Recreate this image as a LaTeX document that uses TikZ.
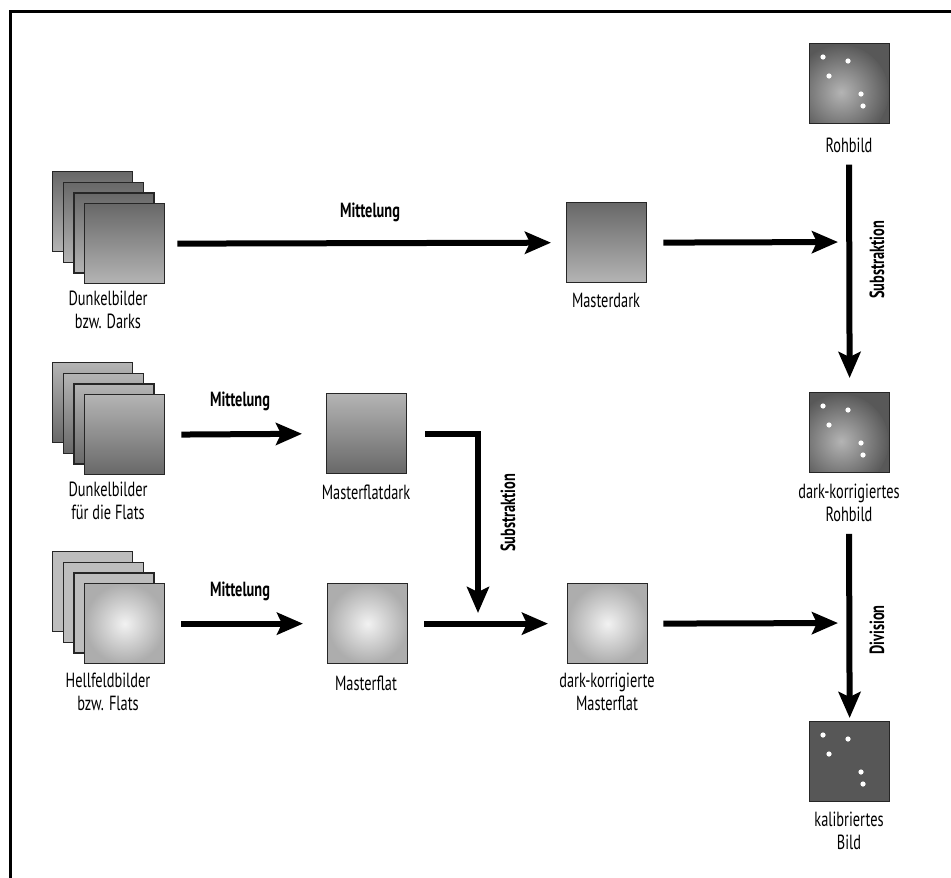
\documentclass[tikz,border=0pt]{standalone}
\usepackage{fontspec}
\setmainfont[FakeStretch=0.7]{PT Sans}
\usetikzlibrary{arrows.meta,calc}
\definecolor{gdark}{HTML}{686868}
\definecolor{glight}{HTML}{B4B4B4}
\definecolor{flatback}{HTML}{BDBDBD}
\definecolor{flatin}{HTML}{F2F2F2}
\definecolor{flatout}{HTML}{ADADAD}
\definecolor{rawout}{HTML}{585858}
\definecolor{rawin}{HTML}{B4B4B4}
\definecolor{calib}{HTML}{575757}
\begin{document}
\begin{tikzpicture}[x=1pt,y=-1pt,
  img/.style={draw=black!85, line width=1.3pt, minimum size=80pt, inner sep=0pt, anchor=north west},
  darkimg/.style={img, top color=gdark, bottom color=glight},
  flatdarkimg/.style={img, top color=glight, bottom color=gdark},
  flatbackimg/.style={img, fill=flatback},
  flatimg/.style={img, inner color=flatin, outer color=flatout},
  rawimg/.style={img, fill=rawout, path picture={
      \shade[inner color=rawin, outer color=rawout]
        ($(path picture bounding box.center)+(-9,9)$) circle (48);}},
  calimg/.style={img, fill=calib},
  caption/.style={align=center, font=\fontsize{20.5}{22.5}\selectfont, inner sep=0pt},
  oplabel/.style={font=\bfseries\fontsize{20.5}{22.5}\selectfont, inner sep=0pt},
  arr/.style={line width=6pt, -{Stealth[length=26pt, width=22pt, inset=5pt]}},
  star/.style={fill=white}
]
\useasboundingbox (0,0) rectangle (951,878);

% frame
\draw[line width=3pt, draw=black] (10,880) -- (10,11.5) -- (953,11.5);

% dark frames stack
\node[darkimg] (dk1) at (52,171) {};
\node[darkimg] (dk2) at (62.7,181.7) {};
\node[darkimg] (dk3) at (73.3,192.3) {};
\node[darkimg] (dk4) at (84,203) {};
\node[caption] (dkcap) at (108,310) {Dunkelbilder\\bzw. Darks};

% flat-dark frames stack
\node[flatdarkimg] (fd1) at (52,362) {};
\node[flatdarkimg] (fd2) at (62.7,372.7) {};
\node[flatdarkimg] (fd3) at (73.3,383.3) {};
\node[flatdarkimg] (fd4) at (84,394) {};
\node[caption] (fdcap) at (108,501) {Dunkelbilder\\für die Flats};

% flat frames stack
\node[flatbackimg] (fl1) at (52,551) {};
\node[flatbackimg] (fl2) at (62.7,561.7) {};
\node[flatbackimg] (fl3) at (73.3,572.3) {};
\node[flatimg] (fl4) at (84,583) {};
\node[caption] (flcap) at (108,692) {Hellfeldbilder\\bzw. Flats};

% master frames
\node[darkimg] (md) at (566,202) {};
\node[caption] (mdcap) at (606,300) {Masterdark};
\node[flatdarkimg] (mfd) at (326,393) {};
\node[caption] (mfdcap) at (366,492) {Masterflatdark};
\node[flatimg] (mf) at (327,583) {};
\node[caption] (mfcap) at (366,683) {Masterflat};
\node[flatimg] (dmf) at (567,583) {};
\node[caption] (dmfcap) at (607,692) {dark-korrigierte\\Masterflat};

% light frames
\node[rawimg] (raw) at (809,43) {};
\node[caption] (rawcap) at (849,145) {Rohbild};
\node[rawimg] (dkraw) at (809,392) {};
\node[caption] (dkrawcap) at (849,503) {dark-korrigiertes\\Rohbild};
\node[calimg] (cal) at (809,721) {};
\node[caption] (calcap) at (849,831) {kalibriertes\\Bild};

% stars
\foreach \n in {raw,dkraw,cal}{
  \foreach \px/\py in {14/14,39/18,20/33,52/51,54/63}{
    \fill[star] ($(\n.north west)+(\px,\py)$) circle (2.6);
  }
}

% junction points on the vertical arrows
\coordinate (sub1) at (849,242);
\coordinate (div1) at (849,623);
\coordinate (sub2) at (478,624);

% connectors
\draw[arr, shorten <=12pt, shorten >=15pt] (dk4.east) -- (md.west);
\draw[arr, shorten <=16pt, shorten >=11pt] (md.east) -- (sub1);
\draw[arr, shorten <=12pt, shorten >=14pt] (rawcap.south) -- (dkraw.north);
\draw[arr, shorten <=12pt, shorten >=3pt] (dkrawcap.south) -- (cal.north);
\draw[arr, shorten <=16pt, shorten >=24pt] (fd4.east) -- (mfd.west);
\draw[arr, shorten <=18pt, shorten >=11pt] (mfd.east) -| (sub2);
\draw[arr, shorten <=16pt, shorten >=24pt] (fl4.east) -- (mf.west);
\draw[arr, shorten <=16pt, shorten >=19pt] (mf.east) -- (dmf.west);
\draw[arr, shorten <=15pt, shorten >=11pt] (dmf.east) -- (div1);

% operation labels
\node[oplabel] (op1) at (370,212) {Mittelung};
\node[oplabel] (op2) at (240,401) {Mittelung};
\node[oplabel] (op3) at (240,591) {Mittelung};
\node[oplabel, rotate=90] (op4) at (877,260) {Substraktion};
\node[oplabel, rotate=90] (op5) at (508,513) {Substraktion};
\node[oplabel, rotate=90] (op6) at (877,630) {Division};
\end{tikzpicture}
\end{document}
